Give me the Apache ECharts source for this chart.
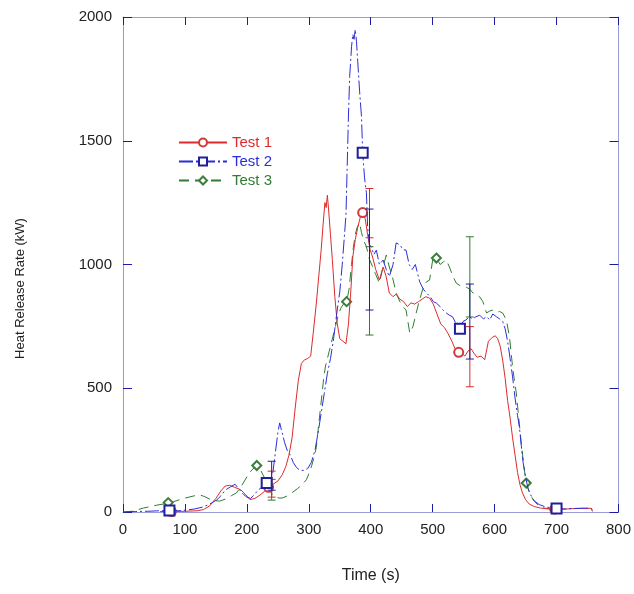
<!DOCTYPE html>
<html>
<head>
<meta charset="utf-8">
<script src="https://cdn.jsdelivr.net/npm/echarts@6/dist/echarts.min.js"></script>
<style>html,body{margin:0;padding:0;background:#fff}#c{width:634px;height:594px}</style>
</head>
<body>
<div id="c"></div>
<script>
// ---- data (time s, heat release rate kW) ----
const xTicks = [0, 100, 200, 300, 400, 500, 600, 700, 800];
const yTicks = [0, 500, 1000, 1500, 2000];
const seriesNames = ['Test 1', 'Test 2', 'Test 3'];

const test1 = [
  [60,2],[78,2],[100,3],[120,5],[130,10],[140,25],[150,55],[158,85],[165,105],[172,108],[180,100],[190,90],
  [198,70],[205,50],[213,55],[221,68],[229,85],[235,100],[242,112],[250,125],[257,150],[263,185],[268,230],
  [273,300],[278,420],[283,530],[288,600],[293,615],[298,620],[303,630],[307,720],[312,840],[316,950],
  [320,1060],[323,1160],[326,1250],[328,1230],[330,1280],[332,1220],[335,1120],[338,1020],[342,870],
  [346,760],[350,700],[355,690],[360,680],[364,760],[368,900],[371,1030],[375,1100],[379,1150],[383,1190],
  [387,1210],[391,1185],[395,1120],[399,1060],[403,1030],[408,980],[414,937],[420,990],[425,950],[430,885],
  [436,870],[441,880],[447,860],[453,850],[459,830],[465,845],[471,840],[477,850],[483,860],[489,870],
  [495,864],[501,840],[507,800],[513,760],[519,745],[525,720],[531,690],[536,660],[542,645],[547,640],
  [552,630],[557,650],[562,660],[567,640],[572,625],[578,630],[584,615],[590,690],[596,705],[601,712],
  [605,700],[609,670],[613,614],[617,540],[621,450],[625,380],[629,300],[633,230],[637,160],[641,110],
  [645,77],[650,50],[656,32],[664,22],[674,16],[685,13],[697,12],[715,12],[730,14],[745,15],[756,15],[758,2]
];
const test2 = [
  [0,0],[20,2],[40,3],[60,5],[75,6],[90,5],[103,8],[115,12],[129,20],[140,32],[151,48],[158,65],[165,88],
  [173,101],[181,112],[188,90],[195,70],[200,60],[206,55],[212,70],[218,88],[224,100],[232,117],[238,130],
  [242,160],[246,240],[250,320],[253,360],[257,320],[261,280],[265,250],[270,230],[275,200],[280,180],
  [286,168],[292,168],[298,175],[304,200],[310,250],[315,320],[320,400],[325,480],[330,560],[335,620],
  [340,700],[345,800],[350,890],[354,1000],[357,1100],[360,1200],[362,1400],[364,1600],[366,1760],
  [369,1880],[371,1930],[373,1910],[375,1950],[377,1900],[379,1820],[382,1700],[385,1600],[387,1452],
  [390,1350],[393,1290],[395,1150],[398,1080],[401,1070],[405,1040],[409,1058],[414,1000],[420,1018],
  [425,980],[430,951],[436,1000],[441,1087],[447,1080],[452,1060],[457,1058],[462,1000],[467,980],
  [472,1000],[479,930],[485,900],[490,885],[496,870],[501,850],[506,844],[512,830],[517,815],[522,804],
  [527,795],[532,789],[538,760],[544,740],[549,770],[554,776],[559,790],[564,780],[570,789],[576,795],
  [582,780],[587,790],[592,776],[597,800],[603,789],[608,780],[613,770],[617,740],[621,690],[625,620],
  [629,546],[633,460],[637,390],[640,343],[643,270],[646,200],[650,140],[654,95],[658,70],[664,45],
  [672,30],[683,20],[700,14],[712,12],[725,14],[740,15],[755,15],[758,10]
];
const test3 = [
  [0,0],[15,3],[33,16],[45,22],[55,28],[65,32],[73,38],[82,42],[92,50],[100,56],[108,61],[116,66],
  [124,69],[132,62],[140,52],[148,46],[156,44],[165,52],[175,66],[183,77],[190,100],[196,125],[202,150],
  [208,170],[216,188],[222,170],[228,140],[234,105],[240,75],[246,62],[252,56],[258,57],[266,66],
  [274,80],[282,95],[289,110],[296,130],[301,160],[305,190],[309,225],[312,260],[315,330],[318,400],
  [321,470],[324,540],[327,590],[330,620],[333,650],[336,680],[339,710],[342,740],[345,770],[348,800],
  [352,825],[356,840],[361,850],[365,900],[369,1000],[372,1070],[375,1120],[378,1150],[382,1168],
  [385,1130],[388,1100],[393,1072],[398,1020],[403,991],[408,960],[414,925],[419,980],[425,1038],
  [430,990],[435,950],[441,885],[447,850],[452,830],[457,816],[463,723],[468,748],[473,800],[478,850],
  [484,900],[490,930],[495,937],[500,1018],[506,1026],[512,1000],[517,1010],[522,1018],[527,990],
  [533,950],[538,925],[544,915],[549,910],[554,909],[560,900],[565,885],[570,880],[576,869],[581,850],
  [587,804],[592,812],[597,816],[603,808],[608,810],[613,804],[619,776],[624,707],[629,586],[632,530],
  [635,481],[639,380],[643,279],[647,190],[651,117],[656,80],[662,50],[670,28],[680,16],[690,12],[700,10]
];

const markers1 = [78, 235, 387, 542, 697];
const markers2 = [75, 232, 387, 544, 700];
const markers3 = [73, 216, 361, 506, 651];

// error bars: [time, low, high]
const err1 = [[240, 60, 165], [398, 1108, 1307], [560, 506, 749]];
const err2 = [[240, 88, 205], [398, 816, 1224], [560, 618, 921]];
const err3 = [[240, 48, 132], [398, 715, 1072], [560, 788, 1112]];

// ---- styles ----
const red = '#dd2b2b', blue = '#2d2dd8', green = '#2e7d32';
const markRed = '#d23a3a', markBlue = '#1f1f9a', markGreen = '#3d7d3d';
const FONT = '"Liberation Sans", Arial, sans-serif';

function withMarkers(pts, marks) {
  const idx = new Set(marks.map(m => {
    let best = 0, bd = Infinity;
    pts.forEach((p, i) => { const d = Math.abs(p[0] - m); if (d < bd) { bd = d; best = i; } });
    return best;
  }));
  return pts.map((p, i) => idx.has(i) ? { value: p } : { value: p, symbol: 'none' });
}

function errRender(color) {
  return function (params, api) {
    const x = api.value(0), lo = api.value(1), hi = api.value(2);
    const a = api.coord([x, lo]), b = api.coord([x, hi]);
    const w = 4;
    const style = { stroke: color, lineWidth: 1, fill: null };
    return {
      type: 'group',
      children: [
        { type: 'line', shape: { x1: a[0], y1: a[1], x2: b[0], y2: b[1] }, style },
        { type: 'line', shape: { x1: a[0] - w, y1: a[1], x2: a[0] + w, y2: a[1] }, style },
        { type: 'line', shape: { x1: b[0] - w, y1: b[1], x2: b[0] + w, y2: b[1] }, style }
      ]
    };
  };
}

const axisLineColor = '#9a9ad8';
const tickColor = '#1c1ca0';
const plain = v => String(v);

const chart = echarts.init(document.getElementById('c'), null, { renderer: 'canvas' });
chart.setOption({
  backgroundColor: '#fff',
  animation: false,
  textStyle: { fontFamily: FONT },
  grid: { left: 123, right: 15, top: 17, bottom: 82, containLabel: false },
  legend: {
    orient: 'vertical',
    left: 178,
    top: 135,
    padding: 0,
    itemWidth: 48,
    itemHeight: 10,
    itemGap: 4,
    data: [
      { name: 'Test 1', textStyle: { color: red } },
      { name: 'Test 2', textStyle: { color: blue } },
      { name: 'Test 3', textStyle: { color: green } }
    ],
    textStyle: { fontSize: 15, fontFamily: FONT },
    itemStyle: { borderWidth: 1 },
    selectedMode: false
  },
  xAxis: [
    {
      type: 'value', min: 0, max: 800, interval: 100, position: 'bottom',
      name: 'Time (s)', nameLocation: 'middle', nameGap: 56,
      nameTextStyle: { fontSize: 16, color: '#222', fontFamily: FONT },
      axisLine: { show: true, onZero: false, lineStyle: { color: axisLineColor, width: 1 } },
      axisTick: { show: true, inside: true, length: 8, lineStyle: { color: tickColor } },
      axisLabel: { fontSize: 15, color: '#222', margin: 10, fontFamily: FONT, formatter: plain },
      splitLine: { show: false }
    },
    {
      type: 'value', min: 0, max: 800, interval: 100, position: 'top',
      axisLine: { show: true, onZero: false, lineStyle: { color: axisLineColor, width: 1 } },
      axisTick: { show: true, inside: true, length: 8, lineStyle: { color: tickColor } },
      axisLabel: { show: false },
      splitLine: { show: false }
    }
  ],
  yAxis: [
    {
      type: 'value', min: 0, max: 2000, interval: 500, position: 'left',
      name: 'Heat Release Rate (kW)', nameLocation: 'middle', nameGap: 96, nameRotate: 90,
      nameTextStyle: { fontSize: 13, color: '#222', fontFamily: FONT, padding: [0, 48, 0, 0] },
      axisLine: { show: true, onZero: false, lineStyle: { color: axisLineColor, width: 1 } },
      axisTick: { show: true, inside: true, length: 9, lineStyle: { color: tickColor } },
      axisLabel: { fontSize: 15, color: '#222', margin: 11, fontFamily: FONT, formatter: plain },
      splitLine: { show: false }
    },
    {
      type: 'value', min: 0, max: 2000, interval: 500, position: 'right',
      axisLine: { show: true, onZero: false, lineStyle: { color: axisLineColor, width: 1 } },
      axisTick: { show: true, inside: true, length: 9, lineStyle: { color: tickColor } },
      axisLabel: { show: false },
      splitLine: { show: false }
    }
  ],
  series: [
    {
      name: 'Test 1', type: 'line', data: withMarkers(test1, markers1),
      symbol: 'emptyCircle', symbolSize: 9, showSymbol: true,
      lineStyle: { color: red, width: 1, type: 'solid' },
      itemStyle: { color: markRed, borderColor: markRed, borderWidth: 1 },
      z: 3
    },
    {
      name: 'Test 2', type: 'line', data: withMarkers(test2, markers2),
      symbol: 'emptyRect', symbolSize: 10, showSymbol: true,
      lineStyle: { color: blue, width: 1, type: [14, 3, 2, 3] },
      itemStyle: { color: markBlue, borderColor: markBlue, borderWidth: 1 },
      z: 4
    },
    {
      name: 'Test 3', type: 'line', data: withMarkers(test3, markers3),
      symbol: 'emptyDiamond', symbolSize: 9, showSymbol: true,
      lineStyle: { color: green, width: 1, type: [10, 6] },
      itemStyle: { color: markGreen, borderColor: markGreen, borderWidth: 1 },
      z: 2
    },
    { name: 'err1', type: 'custom', renderItem: errRender(red), data: err1, encode: { x: 0, y: [1, 2] }, z: 5 },
    { name: 'err2', type: 'custom', renderItem: errRender(markBlue), data: err2, encode: { x: 0, y: [1, 2] }, z: 6 },
    { name: 'err3', type: 'custom', renderItem: errRender(green), data: err3, encode: { x: 0, y: [1, 2] }, z: 4 }
  ]
});
</script>
</body>
</html>
